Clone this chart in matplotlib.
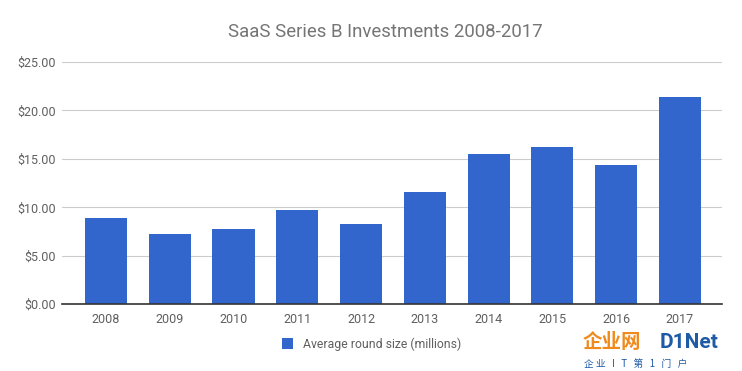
import matplotlib
matplotlib.use("Agg")
import matplotlib.pyplot as plt
from matplotlib.patches import Patch

years = ["2008", "2009", "2010", "2011", "2012", "2013", "2014", "2015", "2016", "2017"]
avg_round = [8.87, 7.25, 7.75, 9.71, 8.26, 11.57, 15.5, 16.2, 14.36, 21.4]
yticks = [0, 5, 10, 15, 20, 25]
series_name = "Average round size (millions)"
title = "SaaS Series B Investments 2008-2017"

plt.rcParams['font.family'] = ['Roboto', 'Noto Sans CJK SC', 'DejaVu Sans']

fig = plt.figure(figsize=(7.42, 3.71), dpi=100)
ax = fig.add_axes([62/742, 1-304.3/371, 660/742, (304.3-62)/371])

color = "#3366cc"
x = list(range(len(years)))
ax.bar(x, avg_round, width=0.66, color=color, zorder=3)
ax.set_xlim(-0.69, 9.66)
ax.set_ylim(0, 25)
ax.set_yticks(yticks)
ax.set_yticklabels([f"${v:.2f}" for v in yticks], color="#5f5f5f", fontsize=9)
ax.set_xticks(x)
ax.set_xticklabels(years, color="#5f5f5f", fontsize=9)
ax.tick_params(axis='both', length=0, pad=6)
ax.tick_params(axis='y', pad=4.5)
ax.grid(axis='y', color="#cccccc", linewidth=0.8, zorder=0)
for s in ["top", "right", "left"]:
    ax.spines[s].set_visible(False)
ax.spines["bottom"].set_color("#333333")
ax.spines["bottom"].set_linewidth(1.2)
ax.spines["bottom"].set_zorder(4)

fig.text(385/742, 1-32/371, title, ha="center", va="center", fontsize=13.4, color="#757575")

leg = fig.legend(handles=[Patch(facecolor=color, label=series_name)],
                 loc="center", bbox_to_anchor=(372/742, 1-344/371), frameon=False,
                 fontsize=8.8, handlelength=0.9, handleheight=0.9, handletextpad=0.8)
for t in leg.get_texts():
    t.set_color("#5f5f5f")

# watermark
fig.text(583/742, 1-343/371, "企业网", fontsize=14, color="#f08a1c", fontweight="bold",
         ha="left", va="center", family=['Noto Sans CJK SC', 'DejaVu Sans'])
fig.text(660/742, 1-343/371, "D1Net", fontsize=15, color="#1f5aa6", fontweight="bold",
         ha="left", va="center")
fig.text(584/742, 1-364/371, "企 业   I   T   第   1   门   户", fontsize=7, color="#1f5aa6",
         ha="left", va="center", family=['Noto Sans CJK SC', 'DejaVu Sans'])

fig.savefig("out.png", dpi=100)
